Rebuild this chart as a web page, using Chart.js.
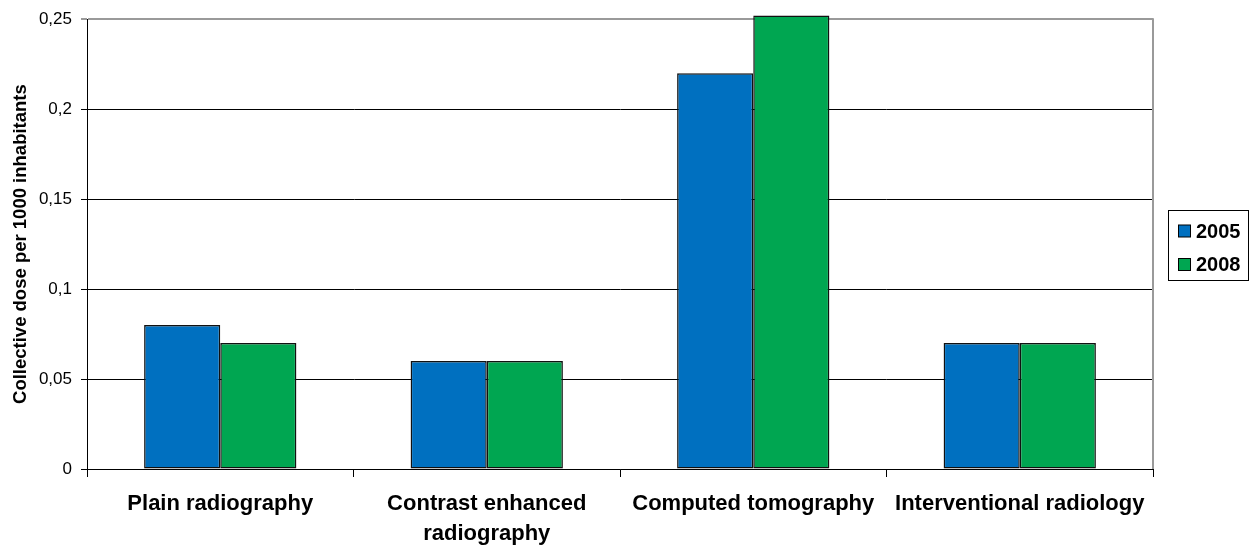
<!DOCTYPE html>
<html>
<head>
<meta charset="utf-8">
<script src="https://cdn.jsdelivr.net/npm/chart.js@4/dist/chart.umd.min.js"></script>
<style>
  html, body { margin: 0; padding: 0; background: #fff; }
  #wrap { width: 1249px; height: 549px; }
</style>
</head>
<body>
<div id="wrap"><canvas id="c" width="1249" height="549"></canvas></div>
<script>
// Collective dose per 1000 inhabitants by examination type
const categories = ['Plain radiography', ['Contrast enhanced', 'radiography'], 'Computed tomography', 'Interventional radiology'];
const seriesNames = ['2005', '2008'];
const values2005 = [0.08, 0.06, 0.22, 0.07];
const values2008 = [0.07, 0.06, 0.252, 0.07];
const tickValues = [0, 0.05, 0.1, 0.15, 0.2, 0.25];
const tickLabels = ['0', '0,05', '0,1', '0,15', '0,2', '0,25'];
const seriesColors = ['#0070C0', '#00A651'];

const FONT = '"Liberation Sans", Arial, sans-serif';

// Legend box drawn to the right of the plot area, plus the plot frame
const frameAndLegend = {
  id: 'frameAndLegend',
  afterDatasetsDraw(chart) {
    const { ctx, chartArea } = chart;
    ctx.save();
    // grey right edge of plot area
    ctx.strokeStyle = '#9a9a9a';
    ctx.lineWidth = 2;
    ctx.beginPath();
    ctx.moveTo(chartArea.right, chartArea.top - 1);
    ctx.lineTo(chartArea.right, chartArea.bottom);
    ctx.stroke();

    // legend box
    const bx = 1168.5, by = 210.5, bw = 80, bh = 70;
    ctx.fillStyle = '#fff';
    ctx.fillRect(bx, by, bw, bh);
    ctx.strokeStyle = '#000';
    ctx.lineWidth = 1;
    ctx.strokeRect(bx, by, bw, bh);
    ctx.font = 'bold 20px ' + FONT;
    ctx.textBaseline = 'middle';
    ctx.textAlign = 'left';
    chart.data.datasets.forEach((ds, i) => {
      const cy = 231 + i * 33.5;
      ctx.fillStyle = ds.backgroundColor;
      ctx.fillRect(1178.5, cy - 6, 12, 12);
      ctx.strokeStyle = '#000';
      ctx.strokeRect(1178.5, cy - 6, 12, 12);
      ctx.fillStyle = '#000';
      ctx.fillText(ds.label, 1196, cy + 1);
    });
    ctx.restore();
  }
};

new Chart(document.getElementById('c'), {
  type: 'bar',
  data: {
    labels: categories,
    datasets: [
      { label: seriesNames[0], data: values2005, backgroundColor: seriesColors[0], borderColor: '#111', borderWidth: 1.5, borderSkipped: false, clip: false },
      { label: seriesNames[1], data: values2008, backgroundColor: seriesColors[1], borderColor: '#111', borderWidth: 1.5, borderSkipped: false, clip: false }
    ]
  },
  options: {
    responsive: false,
    animation: false,
    devicePixelRatio: 1,
    layout: { padding: { top: 18, right: 96, left: 0, bottom: 0 } },
    datasets: { bar: { categoryPercentage: 2 / 3.5, barPercentage: 1 } },
    plugins: {
      legend: { display: false },
      tooltip: { enabled: false }
    },
    scales: {
      x: {
        afterFit(scale) { scale.height = 80; },
        grid: { offset: true, drawOnChartArea: false, drawTicks: true, tickLength: 8, color: '#000', lineWidth: 1 },
        border: { color: '#000', width: 1 },
        ticks: {
          color: '#000',
          padding: 12,
          maxRotation: 0,
          autoSkip: false,
          font: { family: FONT, size: 22, weight: 'bold', lineHeight: 1.36 }
        }
      },
      y: {
        min: 0,
        max: 0.25,
        afterFit(scale) { scale.width = 87; },
        afterBuildTicks(scale) { scale.ticks = tickValues.map(v => ({ value: v })); },
        grid: {
          color: ctx => (ctx.tick && ctx.tick.value === 0.25) ? '#9a9a9a' : '#000',
          lineWidth: ctx => (ctx.tick && ctx.tick.value === 0.25) ? 2 : 1,
          tickLength: 6,
          drawTicks: true
        },
        border: { color: '#000', width: 1 },
        ticks: {
          color: '#000',
          padding: 9,
          font: { family: FONT, size: 17 },
          callback: (v) => {
            const i = tickValues.findIndex(t => Math.abs(t - v) < 1e-9);
            return i >= 0 ? tickLabels[i] : '';
          }
        },
        title: {
          display: true,
          text: 'Collective dose per 1000 inhabitants',
          color: '#000',
          font: { family: FONT, size: 18.5, weight: 'bold' },
          padding: { top: 10, bottom: 0 }
        }
      }
    }
  },
  plugins: [frameAndLegend]
});
</script>
</body>
</html>
